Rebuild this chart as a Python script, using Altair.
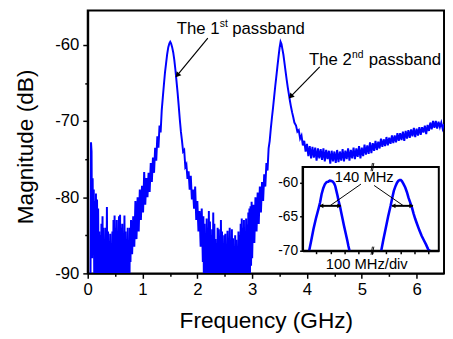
import altair as alt
import pandas as pd

# ---------------- main trace (GHz, dB) ----------------
seg_floor_low = [
    (0.05, -92), (0.06, -72.8), (0.07, -74.0), (0.08, -88), (0.09, -77.5), (0.10, -86),
    (0.11, -79.0), (0.12, -92), (0.13, -80.5), (0.14, -91), (0.15, -79.5), (0.16, -92),
    (0.17, -80.3), (0.18, -90), (0.19, -81.5), (0.20, -93), (0.21, -84.5), (0.22, -91),
    (0.23, -85.0), (0.24, -93), (0.25, -83.5), (0.26, -92), (0.27, -82.5), (0.28, -93),
    (0.29, -84.0), (0.30, -91), (0.31, -85.5), (0.32, -93), (0.33, -84.0), (0.34, -92),
    (0.35, -81.3), (0.36, -93), (0.37, -84.5), (0.38, -91), (0.39, -85.8), (0.40, -93),
    (0.41, -84.8), (0.42, -92), (0.43, -86.0), (0.44, -93), (0.45, -84.5), (0.46, -91),
    (0.47, -83.0), (0.48, -93), (0.49, -82.4), (0.50, -92), (0.51, -84.0), (0.52, -93),
    (0.53, -83.0), (0.54, -91), (0.55, -84.5), (0.56, -93), (0.57, -82.5), (0.58, -92),
    (0.59, -82.3), (0.60, -93), (0.61, -84.0), (0.62, -91), (0.63, -83.5), (0.64, -93),
    (0.65, -85.0), (0.66, -92), (0.67, -82.4), (0.68, -93), (0.69, -84.5), (0.70, -91),
    (0.71, -85.5), (0.72, -93), (0.73, -84.0), (0.74, -92), (0.75, -85.8), (0.76, -93),
    (0.77, -84.0), (0.78, -88.5),
]
seg_rise_1 = [
    (0.79, -83.0), (0.81, -87.5), (0.83, -82.5), (0.85, -86.5), (0.87, -80.5), (0.89, -85.5),
    (0.91, -80.0), (0.93, -84.5), (0.95, -79.0), (0.97, -83.0), (0.99, -78.5), (1.01, -82.0),
    (1.03, -76.7), (1.05, -81.0), (1.07, -77.5), (1.09, -80.0), (1.11, -76.8), (1.13, -79.3),
    (1.15, -75.5), (1.17, -78.0), (1.19, -74.8), (1.21, -76.8), (1.23, -73.5), (1.25, -75.2),
    (1.27, -72.0), (1.29, -73.5), (1.31, -70.6), (1.33, -71.5), (1.35, -68.6),
]
seg_peak_1 = [
    (1.37, -66.9), (1.39, -65.2), (1.41, -63.6), (1.43, -62.4), (1.45, -61.2), (1.47, -60.3),
    (1.49, -59.8), (1.505, -59.6), (1.52, -59.8), (1.54, -60.3), (1.56, -61.0), (1.58, -62.0),
    (1.60, -63.3), (1.62, -64.8), (1.64, -66.3), (1.66, -68.0), (1.68, -69.8), (1.70, -71.4),
    (1.72, -72.6),
]
seg_fall_1 = [
    (1.74, -74.0), (1.76, -73.8), (1.78, -76.0), (1.80, -75.7), (1.82, -77.6), (1.84, -76.6),
    (1.86, -79.0), (1.88, -77.2), (1.90, -80.3), (1.92, -79.0), (1.94, -81.5), (1.96, -78.6),
    (1.98, -83.0), (2.00, -80.5), (2.02, -84.5), (2.04, -81.8), (2.06, -86.5), (2.08, -81.5),
    (2.10, -88.5),
]
seg_floor_mid = [
    (2.11, -82.5), (2.12, -92), (2.13, -83.5), (2.14, -93), (2.15, -84.8), (2.16, -91),
    (2.17, -82.8), (2.18, -93), (2.19, -84.0), (2.20, -92), (2.21, -81.8), (2.22, -93),
    (2.23, -83.2), (2.24, -91), (2.25, -85.0), (2.26, -93), (2.27, -84.2), (2.28, -92),
    (2.29, -82.0), (2.30, -93), (2.31, -83.5), (2.32, -91), (2.33, -85.5), (2.34, -93),
    (2.35, -86.0), (2.36, -92), (2.37, -84.0), (2.38, -93), (2.39, -84.2), (2.40, -90),
    (2.41, -85.6), (2.42, -93), (2.43, -83.0), (2.44, -92), (2.45, -84.5), (2.46, -93),
    (2.47, -86.0), (2.48, -91), (2.49, -85.0), (2.50, -93), (2.51, -84.8), (2.52, -92),
    (2.53, -86.2), (2.54, -93), (2.55, -84.4), (2.56, -89), (2.57, -85.8), (2.58, -93),
    (2.59, -84.0), (2.60, -92), (2.61, -86.0), (2.62, -93), (2.63, -84.2), (2.64, -91),
    (2.65, -85.4), (2.66, -93), (2.67, -86.5), (2.68, -92), (2.69, -85.0), (2.70, -93),
    (2.71, -85.6), (2.72, -91), (2.73, -86.6), (2.74, -93), (2.75, -84.5), (2.76, -92),
    (2.77, -85.0), (2.78, -93), (2.79, -83.5), (2.80, -91), (2.81, -82.8), (2.82, -93),
    (2.83, -84.0), (2.84, -92), (2.85, -83.0), (2.86, -93), (2.87, -84.6), (2.88, -90),
    (2.89, -82.8), (2.90, -93), (2.91, -83.6), (2.92, -91), (2.93, -82.0), (2.94, -92),
    (2.95, -81.5), (2.96, -90), (2.97, -81.2), (2.98, -89), (2.99, -80.6), (3.00, -88),
]
seg_rise_2 = [
    (3.02, -81.0), (3.04, -86.0), (3.06, -80.0), (3.08, -84.5), (3.10, -79.4), (3.12, -83.5),
    (3.14, -78.6), (3.16, -82.0), (3.18, -78.0), (3.20, -80.5), (3.22, -77.0), (3.24, -78.6),
    (3.26, -75.5), (3.28, -76.5), (3.30, -73.6), (3.32, -72.6), (3.34, -71.0), (3.36, -69.6),
    (3.38, -68.3), (3.40, -66.9), (3.42, -65.5), (3.44, -64.2), (3.46, -62.9), (3.48, -61.6),
    (3.50, -60.4),
]
seg_peak_2 = [
    (3.518, -59.6), (3.535, -59.9), (3.55, -60.5), (3.57, -61.3), (3.59, -62.4), (3.61, -63.5),
    (3.63, -64.6), (3.65, -65.6), (3.67, -66.5), (3.69, -67.4), (3.71, -68.2), (3.73, -68.9),
    (3.75, -69.5), (3.77, -70.2),
]
seg_tail = [
    (3.800, -70.6), (3.825, -71.4), (3.850, -71.2), (3.875, -72.3), (3.900, -71.9), (3.925, -73.2),
    (3.950, -72.6), (3.975, -74.0), (4.000, -73.0), (4.025, -74.6), (4.050, -73.3), (4.075, -74.9),
    (4.100, -73.4), (4.125, -74.8), (4.150, -73.5), (4.175, -75.2), (4.200, -73.6), (4.225, -74.9),
    (4.250, -73.7), (4.275, -75.1), (4.300, -73.6), (4.325, -75.3), (4.350, -73.8), (4.375, -75.0),
    (4.400, -73.9), (4.425, -75.6), (4.450, -73.9), (4.475, -75.3), (4.500, -74.0), (4.525, -75.5),
    (4.550, -73.8), (4.575, -75.4), (4.600, -74.0), (4.625, -75.2), (4.650, -73.7), (4.675, -75.3),
    (4.700, -73.9), (4.725, -75.0), (4.750, -73.6), (4.775, -75.2), (4.800, -73.8), (4.825, -74.9),
    (4.850, -73.5), (4.875, -75.0), (4.900, -73.6), (4.925, -74.7), (4.950, -73.3), (4.975, -74.9),
    (5.000, -73.5), (5.025, -74.6), (5.050, -73.1), (5.075, -74.4), (5.100, -73.2), (5.125, -74.3),
    (5.150, -72.8), (5.175, -74.2), (5.200, -72.9), (5.225, -73.9), (5.250, -72.6), (5.275, -73.8),
    (5.300, -72.7), (5.325, -73.6), (5.350, -72.3), (5.375, -73.4), (5.400, -72.4), (5.425, -73.3),
    (5.450, -72.1), (5.475, -73.2), (5.500, -72.2), (5.525, -73.0), (5.550, -71.9), (5.575, -72.9),
    (5.600, -71.9), (5.625, -72.8), (5.650, -71.6), (5.675, -72.6), (5.700, -71.6), (5.725, -72.5),
    (5.750, -71.4), (5.775, -72.6), (5.800, -71.3), (5.825, -72.3), (5.850, -71.2), (5.875, -72.2),
    (5.900, -71.1), (5.925, -72.0), (5.950, -70.9), (5.975, -72.1), (6.000, -71.0), (6.025, -71.9),
    (6.050, -70.8), (6.075, -71.8), (6.100, -70.8), (6.125, -71.5), (6.150, -70.6), (6.175, -71.7),
    (6.200, -70.5), (6.225, -71.3), (6.250, -70.2), (6.275, -71.1), (6.300, -70.0), (6.325, -70.9),
    (6.350, -70.0), (6.375, -71.0), (6.400, -70.1), (6.425, -70.8), (6.450, -70.2), (6.475, -71.0),
    (6.500, -70.4),
]

x_ticks = [0, 0.5, 1, 1.5, 2, 2.5, 3, 3.5, 4, 4.5, 5, 5.5, 6]
y_ticks = [-90, -85, -80, -75, -70, -65, -60]
x_domain = [0, 6.5]
y_domain = [-90, -55.5]

# annotations (GHz, dB)
label_text = ["The 1", "st", "passband", "The 2", "nd", "passband"]
label_f = [1.625, 2.41, 2.637, 4.036, 4.82, 5.125]
label_m = [-58.58, -57.61, -58.58, -62.58, -61.7, -62.58]
label_size = [17, 10.5, 17, 17, 10.5, 17]

arrow_tail_f = [2.191, 4.232]
arrow_tail_m = [-59.13, -62.88]
arrow_head_f = [1.6125, 3.679]
arrow_head_m = [-64.17, -66.97]
arrow_tip_f = [1.645, 3.714]
arrow_tip_m = [-63.9, -66.7]
arrow_angle = [219.7, 224.4]

# ---------------- inset (MHz offset, dB) ----------------
inset_left_peak = [
    (47, -70), (62, -68.5), (78, -66.8), (95, -65.3), (113, -63.9), (125, -62.9), (136, -61.7),
    (148, -60.8), (160, -60.2), (172, -59.9), (183, -59.85), (195, -59.7), (207, -59.75),
    (217, -59.85), (226, -60.1), (234, -60.5), (242, -61.2), (250, -61.9), (258, -62.7),
    (268, -63.5), (277, -64.4), (286, -65.3), (296, -66.3), (308, -67.4), (320, -68.5),
    (328, -69.3), (336, -70),
]
inset_right_peak = [
    (563, -70), (578, -68.4), (594, -66.8), (612, -65.0), (630, -63.4), (642, -62.2), (653, -61.2),
    (665, -60.5), (676, -60.0), (686, -59.7), (695, -59.6), (703, -59.6), (711, -59.75),
    (723, -60.2), (735, -60.7), (747, -61.4), (758, -62.2), (770, -62.9), (782, -63.6),
    (794, -64.5), (806, -65.3), (820, -66.1), (836, -67.0), (852, -67.8), (869, -68.5),
    (884, -69.1), (899, -69.8), (911, -70),
]
inset_x_domain = [0, 975]
inset_y_domain = [-70, -57.7]
inset_x_ticks = [100, 200, 300, 400, 500, 600, 700, 800, 900]
inset_y_ticks = [-70, -65, -60]
# axis-break marks "//" (two short slashes at top and bottom edge)
break_x1 = [490, 500, 490, 500]
break_x2 = [500, 510, 500, 510]
break_db1 = [-58.3, -58.3, -70.6, -70.6]
break_db2 = [-57.1, -57.1, -69.4, -69.4]
width_arrow_x1 = [124.6, 640.8]
width_arrow_x2 = [272.5, 788.7]
width_arrow_db = -63.4
pointer_from_x = [418, 512]
pointer_from_db = [-60.2, -60.4]
pointer_to_x = [195, 723]
pointer_to_db = [-63.4, -63.4]
inset_label = "140 MHz"
inset_label_x = 441
inset_label_db = -59.9

FONT = "Liberation Sans"
BLUE = "#0000FF"

# ---------------- data frames ----------------
trace = (seg_floor_low + seg_rise_1 + seg_peak_1 + seg_fall_1 + seg_floor_mid
         + seg_rise_2 + seg_peak_2 + seg_tail)
df_trace = pd.DataFrame(trace, columns=["f", "m"])
df_labels = pd.DataFrame({"f": label_f, "m": label_m, "t": label_text, "fs": label_size})
df_arrows = pd.DataFrame({"f": arrow_tail_f, "m": arrow_tail_m,
                          "f2": arrow_head_f, "m2": arrow_head_m})
df_heads = pd.DataFrame({"f": arrow_tip_f, "m": arrow_tip_m, "ang": arrow_angle})

rows = []
for name, pts in (("left", inset_left_peak), ("right", inset_right_peak)):
    for mhz, db in pts:
        rows.append({"mhz": mhz, "db": db, "peak": name})
df_inset = pd.DataFrame(rows)
df_box = pd.DataFrame({"mhz": [inset_x_domain[0]], "mhz2": [inset_x_domain[1]],
                       "db": [inset_y_domain[0]], "db2": [inset_y_domain[1]]})
df_break = pd.DataFrame({"mhz": break_x1, "mhz2": break_x2, "db": break_db1, "db2": break_db2})
df_warrow = pd.DataFrame({"mhz": width_arrow_x1, "mhz2": width_arrow_x2,
                          "db": [width_arrow_db] * 2})
df_wheads = pd.DataFrame({
    "mhz": [width_arrow_x1[0] + 10, width_arrow_x2[0] - 10, width_arrow_x1[1] + 10, width_arrow_x2[1] - 10],
    "db": [width_arrow_db] * 4,
    "shape": ["triangle-left", "triangle-right", "triangle-left", "triangle-right"],
})
df_pointer = pd.DataFrame({"mhz": pointer_from_x, "db": pointer_from_db,
                           "mhz2": pointer_to_x, "db2": pointer_to_db})
df_ilabel = pd.DataFrame({"mhz": [inset_label_x], "db": [inset_label_db], "t": [inset_label]})

# ---------------- main scales / axes ----------------
x_axis = alt.Axis(
    values=x_ticks, title="Frequency (GHz)",
    labelExpr="datum.value % 1 === 0 ? '' + datum.value : ''",
    tickSize={"condition": {"test": "datum.value % 1 === 0", "value": 5}, "value": 3},
    labelFontSize=17, labelPadding=3, labelFlush=False, labelOverlap=False,
    titleFontSize=23, titleX=181, titleY=55, titleBaseline="alphabetic", titleAlign="center",
    zindex=1,
)
y_axis = alt.Axis(
    values=y_ticks, title="Magnitude (dB)",
    labelExpr="datum.value % 10 === 0 ? '' + datum.value : ''",
    tickSize={"condition": {"test": "datum.value % 10 === 0", "value": 5}, "value": 3},
    labelFontSize=17, labelPadding=4, labelFlush=False, labelOverlap=False,
    titleFontSize=23, titleX=-56, titleY=138, titleAngle=270, titleBaseline="alphabetic",
    titleAlign="center", zindex=1,
)
x_enc = alt.X("f:Q", scale=alt.Scale(domain=x_domain, nice=False, zero=False), axis=x_axis)
y_enc = alt.Y("m:Q", scale=alt.Scale(domain=y_domain, nice=False, zero=False), axis=y_axis)

line = alt.Chart(df_trace).mark_line(color=BLUE, strokeWidth=2, clip=True).encode(x=x_enc, y=y_enc)
labels = alt.Chart(df_labels).mark_text(align="left", baseline="alphabetic", font=FONT, color="black").encode(
    x=x_enc, y=y_enc, text="t:N", size=alt.Size("fs:Q", scale=None))
arrows = alt.Chart(df_arrows).mark_rule(color="black", strokeWidth=1.2).encode(
    x=x_enc, y=y_enc, x2="f2:Q", y2="m2:Q")
heads = alt.Chart(df_heads).mark_point(shape="triangle", filled=True, size=38, color="black", opacity=1).encode(
    x=x_enc, y=y_enc, angle=alt.Angle("ang:Q", scale=None))
main = alt.layer(line, arrows, heads, labels)

# ---------------- inset scales / axes ----------------
ix_axis = alt.Axis(
    orient="bottom", offset=-23, values=inset_x_ticks, labels=False, tickSize=3,
    title="100 MHz/div", titleFontSize=15, titleX=283, titleY=18, titleBaseline="alphabetic",
    titleAlign="center", zindex=2,
)
iy_axis = alt.Axis(
    orient="left", offset=-218.3, values=inset_y_ticks, labelExpr="'' + datum.value",
    labelFontSize=14, tickSize=3, labelPadding=2, labelFlush=False, title=None, zindex=2,
)
ix_enc = alt.X("mhz:Q", scale=alt.Scale(domain=inset_x_domain, range=[218.3, 356.7], nice=False, zero=False),
               axis=ix_axis)
iy_enc = alt.Y("db:Q", scale=alt.Scale(domain=inset_y_domain, range=[244, 159], nice=False, zero=False),
               axis=iy_axis)

box = alt.Chart(df_box).mark_rect(fill="white", stroke="black", strokeWidth=2).encode(
    x=ix_enc, y=iy_enc, x2="mhz2:Q", y2="db2:Q")
ipeaks = alt.Chart(df_inset).mark_line(color=BLUE, strokeWidth=2.6).encode(
    x=ix_enc, y=iy_enc, detail="peak:N")
ibreak = alt.Chart(df_break).mark_rule(color="black", strokeWidth=0.9).encode(
    x=ix_enc, y=iy_enc, x2="mhz2:Q", y2="db2:Q")
iwarrow = alt.Chart(df_warrow).mark_rule(color="black", strokeWidth=2).encode(
    x=ix_enc, y=iy_enc, x2="mhz2:Q")
iwheads = alt.Chart(df_wheads).mark_point(filled=True, size=22, color="black", opacity=1).encode(
    x=ix_enc, y=iy_enc, shape=alt.Shape("shape:N", scale=None))
ipointer = alt.Chart(df_pointer).mark_rule(color="black", strokeWidth=1).encode(
    x=ix_enc, y=iy_enc, x2="mhz2:Q", y2="db2:Q")
ilabel = alt.Chart(df_ilabel).mark_text(font=FONT, fontSize=15, baseline="alphabetic", align="center",
                                        color="black").encode(x=ix_enc, y=iy_enc, text="t:N")
inset = alt.layer(box, ipeaks, iwarrow, iwheads, ipointer, ilabel, ibreak)

chart = (
    alt.layer(main, inset)
    .resolve_scale(x="independent", y="independent")
    .properties(
        width=362, height=267,
        padding={"left": 81, "top": 0, "right": 1, "bottom": 61},
        autosize=alt.AutoSizeParams(type="none"),
    )
    .configure_view(stroke="black", strokeWidth=2)
    .configure_axis(
        labelFont=FONT, titleFont=FONT, labelColor="black", titleColor="black",
        tickColor="black", domainColor="black", domainWidth=2, tickWidth=1.5,
        grid=False, titleFontWeight="normal",
    )
    .configure_text(font=FONT)
)

chart.save("out.html", embed_options={"renderer": "svg", "actions": False})
